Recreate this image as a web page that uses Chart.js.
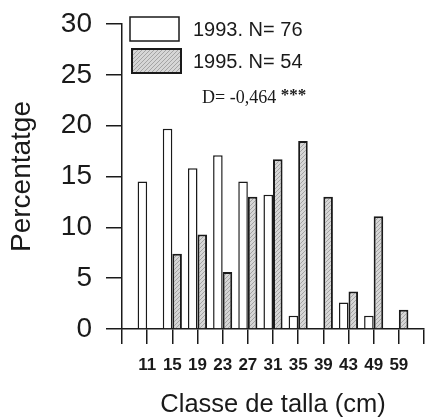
<!DOCTYPE html>
<html>
<head>
<meta charset="utf-8">
<script src="https://cdn.jsdelivr.net/npm/chart.js@4.4.1/dist/chart.umd.min.js"></script>
<style>
  html, body { margin: 0; padding: 0; background: #fff; }
  #wrap { width: 425px; height: 420px; }
</style>
</head>
<body>
<div id="wrap"><canvas id="talla-plot"></canvas></div>
<script>
// size classes (cm), empty slots pad the axis on both ends
var classes = ["", "11", "15", "19", "23", "27", "31", "35", "39", "43", "49", "59", ""];
var pct1993 = [null, 14.5, 19.7, 15.8, 17.1, 14.5, 13.2, 1.3, 0, 2.6, 1.3, 0, null];
var pct1995 = [null, 0, 7.4, 9.3, 5.6, 13.0, 16.7, 18.5, 13.0, 3.7, 11.1, 1.9, null];
var legendLabels = ["1993. N= 76", "1995. N= 54"];
var statText = "D= -0,464 ";
var yTicks = [0, 5, 10, 15, 20, 25, 30];

var ink = "#1a1a1a";

function hatch() {
  var c = document.createElement("canvas");
  c.width = 4; c.height = 4;
  var g = c.getContext("2d");
  g.fillStyle = "#d6d6d6";
  g.fillRect(0, 0, 4, 4);
  g.strokeStyle = "#a4a4a4";
  g.lineWidth = 1;
  g.beginPath();
  g.moveTo(0, 4); g.lineTo(4, 0);
  g.stroke();
  return g.createPattern(c, "repeat");
}
var grayFill = hatch();

// legend + D statistic drawn inside the plot area
var boxLegend = {
  id: "boxLegend",
  afterDraw: function (chart) {
    var ctx = chart.ctx;
    var a = chart.chartArea;
    var x = a.left + 8, w = 49, h = 24;
    var rows = [a.top - 7, a.top + 25];
    ctx.save();
    ctx.lineWidth = 1.5;
    ctx.strokeStyle = ink;
    ctx.fillStyle = "#fff";
    ctx.fillRect(x, rows[0], w, h);
    ctx.strokeRect(x, rows[0], w, h);
    ctx.fillStyle = grayFill;
    ctx.fillRect(x + 2, rows[1], w, h);
    ctx.lineWidth = 2;
    ctx.strokeRect(x + 2, rows[1], w, h);

    ctx.fillStyle = ink;
    ctx.font = "20px 'Liberation Sans', Arial, sans-serif";
    ctx.textBaseline = "middle";
    ctx.textAlign = "left";
    ctx.fillText(legendLabels[0], x + 63, rows[0] + h / 2 + 1);
    ctx.fillText(legendLabels[1], x + 63, rows[1] + h / 2 + 1);

    ctx.font = "18px 'Liberation Serif', 'Times New Roman', serif";
    var sx = x + 72, sy = a.top + 74;
    ctx.fillText(statText, sx, sy);
    var tw = ctx.measureText(statText).width;
    ctx.font = "bold 17px 'Liberation Serif', serif";
    ctx.fillText("***", sx + tw, sy - 2);
    ctx.restore();
  }
};

new Chart("talla-plot", {
  type: "bar",
  data: {
    labels: classes,
    datasets: [{
      label: legendLabels[0],
      data: pct1993,
      backgroundColor: "#ffffff",
      borderColor: ink,
      borderWidth: 1.5
    }, {
      label: legendLabels[1],
      data: pct1995,
      backgroundColor: grayFill,
      borderColor: ink,
      borderWidth: 2
    }]
  },
  options: {
    responsive: true,
    maintainAspectRatio: false,
    animation: false,
    datasets: {
      bar: { categoryPercentage: 0.76, barPercentage: 1 }
    },
    layout: {
      padding: { top: 24, right: 1, left: 0, bottom: 0 }
    },
    plugins: {
      legend: { display: false },
      tooltip: { enabled: false }
    },
    scales: {
      x: {
        offset: false,
        grid: {
          offset: false,
          drawOnChartArea: false,
          drawTicks: true,
          tickLength: 15,
          color: ink,
          lineWidth: 1.5
        },
        border: { display: true, color: ink, width: 1.5 },
        ticks: {
          color: ink,
          padding: 0,   // tick padding would also shrink the right side, so push labels down with lineHeight
          maxRotation: 0,
          autoSkip: false,
          font: { family: "'Liberation Sans', Arial, sans-serif", size: 17, weight: "bold", lineHeight: 2.5 }
        },
        title: {
          display: true,
          text: "Classe de talla (cm)",
          color: ink,
          padding: { top: 0, bottom: 0 },
          font: { family: "'Liberation Sans', Arial, sans-serif", size: 25.5 }
        },
        afterFit: function (scale) { scale.height = 91; }
      },
      y: {
        min: 0,
        max: 30,
        afterBuildTicks: function (scale) {
          scale.ticks = yTicks.map(function (v) { return { value: v }; });
        },
        grid: {
          drawOnChartArea: false,
          drawTicks: true,
          tickLength: 16,
          color: ink,
          lineWidth: 1.5
        },
        border: { display: true, color: ink, width: 1.5 },
        ticks: {
          color: ink,
          padding: 14,
          font: { family: "'Liberation Sans', Arial, sans-serif", size: 28, lineHeight: 0.7 }
        },
        title: {
          display: true,
          text: "Percentatge",
          color: ink,
          padding: { top: 5, bottom: 0 },
          font: { family: "'Liberation Sans', Arial, sans-serif", size: 28 }
        },
        afterFit: function (scale) { scale.width = 122; }
      }
    }
  },
  plugins: [boxLegend]
});
</script>
</body>
</html>
